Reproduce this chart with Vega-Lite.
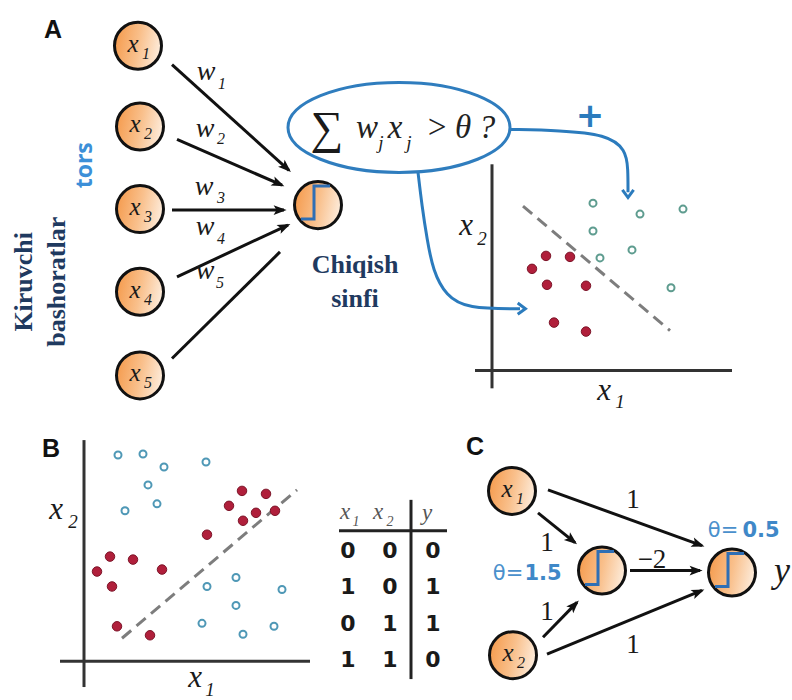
{
  "$schema": "https://vega.github.io/schema/vega-lite/v6.json",
  "width": 792,
  "height": 700,
  "autosize": {"type": "fit", "contains": "padding"},
  "padding": 0,
  "background": "white",
  "config": {"view": {"stroke": null}},
  "datasets": {
    "lines": [
      {"x": 492, "y": 165, "x2": 492, "y2": 390, "k": "axis"},
      {"x": 475, "y": 372, "x2": 732, "y2": 372, "k": "axis"},
      {"x": 84, "y": 442, "x2": 84, "y2": 690, "k": "axis"},
      {"x": 60, "y": 664, "x2": 310, "y2": 664, "k": "axis"},
      {"x": 523, "y": 207, "x2": 670, "y2": 332, "k": "dash"},
      {"x": 122, "y": 641, "x2": 297, "y2": 492, "k": "dash"},
      {"x": 339, "y": 533, "x2": 447, "y2": 533, "k": "table"},
      {"x": 411, "y": 502, "x2": 411, "y2": 682, "k": "table"}
    ],
    "arrows": [
      {"x": 172, "y": 65, "x2": 289, "y2": 171, "a": 132.4},
      {"x": 177, "y": 140, "x2": 282, "y2": 186, "a": 113.7},
      {"x": 172, "y": 211, "x2": 284, "y2": 211, "a": 90},
      {"x": 177, "y": 278, "x2": 288, "y2": 226, "a": 64.9},
      {"x": 172, "y": 360, "x2": 280, "y2": 253, "a": null},
      {"x": 548, "y": 492, "x2": 702, "y2": 548, "a": 110.0},
      {"x": 538, "y": 515, "x2": 575, "y2": 545, "a": 129.0},
      {"x": 543, "y": 640, "x2": 577, "y2": 605, "a": 44.2},
      {"x": 547, "y": 657, "x2": 702, "y2": 593, "a": 67.6},
      {"x": 630, "y": 573, "x2": 700, "y2": 573, "a": 90}
    ],
    "curves": [
      {"id": 1, "o": 1, "x": 510, "y": 130},
      {"id": 1, "o": 2, "x": 560, "y": 131},
      {"id": 1, "o": 3, "x": 606, "y": 135},
      {"id": 1, "o": 4, "x": 626, "y": 150},
      {"id": 1, "o": 5, "x": 628, "y": 170},
      {"id": 1, "o": 6, "x": 628, "y": 193},
      {"id": 2, "o": 1, "x": 418, "y": 173},
      {"id": 2, "o": 2, "x": 422, "y": 207},
      {"id": 2, "o": 3, "x": 427, "y": 240},
      {"id": 2, "o": 4, "x": 433, "y": 272},
      {"id": 2, "o": 5, "x": 446, "y": 297},
      {"id": 2, "o": 6, "x": 467, "y": 310},
      {"id": 2, "o": 7, "x": 520, "y": 310}
    ],
    "bheads": [
      {"x": 628, "y": 197, "a": 180},
      {"x": 524, "y": 310, "a": 90}
    ],
    "ellipse": [{"x": 399, "y": 128}],
    "nodes": [
      {"x": 138, "y": 46, "k": "in"},
      {"x": 140, "y": 127, "k": "in"},
      {"x": 140, "y": 210, "k": "in"},
      {"x": 140, "y": 293, "k": "in"},
      {"x": 140, "y": 377, "k": "in"},
      {"x": 318, "y": 206, "k": "unit"},
      {"x": 512, "y": 493, "k": "in"},
      {"x": 513, "y": 658, "k": "in"},
      {"x": 602, "y": 573, "k": "unit"},
      {"x": 732, "y": 575, "k": "unit"}
    ],
    "dots": [
      {"x": 593, "y": 204, "c": "cA"}, {"x": 640, "y": 215, "c": "cA"}, {"x": 683, "y": 210, "c": "cA"},
      {"x": 593, "y": 232, "c": "cA"}, {"x": 600, "y": 259, "c": "cA"}, {"x": 632, "y": 251, "c": "cA"},
      {"x": 671, "y": 289, "c": "cA"},
      {"x": 546, "y": 257, "c": "red"}, {"x": 570, "y": 258, "c": "red"}, {"x": 532, "y": 270, "c": "red"},
      {"x": 547, "y": 286, "c": "red"}, {"x": 586, "y": 287, "c": "red"}, {"x": 554, "y": 324, "c": "red"},
      {"x": 586, "y": 333, "c": "red"},
      {"x": 118, "y": 457, "c": "cB"}, {"x": 143, "y": 456, "c": "cB"}, {"x": 164, "y": 469, "c": "cB"},
      {"x": 206, "y": 464, "c": "cB"}, {"x": 148, "y": 487, "c": "cB"}, {"x": 157, "y": 506, "c": "cB"},
      {"x": 125, "y": 513, "c": "cB"}, {"x": 207, "y": 589, "c": "cB"}, {"x": 236, "y": 580, "c": "cB"},
      {"x": 282, "y": 592, "c": "cB"}, {"x": 236, "y": 608, "c": "cB"}, {"x": 202, "y": 626, "c": "cB"},
      {"x": 243, "y": 637, "c": "cB"}, {"x": 274, "y": 629, "c": "cB"},
      {"x": 242, "y": 493, "c": "red"}, {"x": 266, "y": 496, "c": "red"}, {"x": 229, "y": 508, "c": "red"},
      {"x": 256, "y": 515, "c": "red"}, {"x": 243, "y": 523, "c": "red"}, {"x": 275, "y": 513, "c": "red"},
      {"x": 207, "y": 537, "c": "red"}, {"x": 110, "y": 559, "c": "red"}, {"x": 133, "y": 562, "c": "red"},
      {"x": 97, "y": 574, "c": "red"}, {"x": 162, "y": 572, "c": "red"}, {"x": 112, "y": 589, "c": "red"},
      {"x": 117, "y": 629, "c": "red"}, {"x": 150, "y": 638, "c": "red"}
    ],
    "texts": [
      {"x": 53, "y": 30, "t": "A", "r": "panel"},
      {"x": 51, "y": 451, "t": "B", "r": "panel"},
      {"x": 475, "y": 449, "t": "C", "r": "panel"},
      {"x": 133, "y": 44, "t": "x", "r": "var"},
      {"x": 135, "y": 125, "t": "x", "r": "var"},
      {"x": 135, "y": 208, "t": "x", "r": "var"},
      {"x": 135, "y": 291, "t": "x", "r": "var"},
      {"x": 135, "y": 375, "t": "x", "r": "var"},
      {"x": 507, "y": 491, "t": "x", "r": "var"},
      {"x": 508, "y": 656, "t": "x", "r": "var"},
      {"x": 146, "y": 54, "t": "1", "r": "sub"},
      {"x": 148, "y": 135, "t": "2", "r": "sub"},
      {"x": 148, "y": 218, "t": "3", "r": "sub"},
      {"x": 148, "y": 301, "t": "4", "r": "sub"},
      {"x": 148, "y": 385, "t": "5", "r": "sub"},
      {"x": 520, "y": 501, "t": "1", "r": "sub"},
      {"x": 521, "y": 666, "t": "2", "r": "sub"},
      {"x": 206, "y": 72, "t": "w", "r": "w"},
      {"x": 205, "y": 130, "t": "w", "r": "w"},
      {"x": 204, "y": 188, "t": "w", "r": "w"},
      {"x": 205, "y": 228, "t": "w", "r": "w"},
      {"x": 205, "y": 272, "t": "w", "r": "w"},
      {"x": 222, "y": 84, "t": "1", "r": "sub"},
      {"x": 221, "y": 140, "t": "2", "r": "sub"},
      {"x": 221, "y": 199, "t": "3", "r": "sub"},
      {"x": 221, "y": 240, "t": "4", "r": "sub"},
      {"x": 220, "y": 284, "t": "5", "r": "sub"},
      {"x": 466, "y": 227, "t": "x", "r": "axis"},
      {"x": 604, "y": 393, "t": "x", "r": "axis"},
      {"x": 56, "y": 512, "t": "x", "r": "axis"},
      {"x": 195, "y": 681, "t": "x", "r": "axis"},
      {"x": 482, "y": 240, "t": "2", "r": "axsub"},
      {"x": 620, "y": 404, "t": "1", "r": "axsub"},
      {"x": 73, "y": 524, "t": "2", "r": "axsub"},
      {"x": 210, "y": 693, "t": "1", "r": "axsub"},
      {"x": 327, "y": 130, "t": "∑", "r": "sigma"},
      {"x": 367, "y": 129, "t": "w", "r": "form"},
      {"x": 395, "y": 129, "t": "x", "r": "form"},
      {"x": 437, "y": 129, "t": ">", "r": "form"},
      {"x": 463, "y": 129, "t": "θ", "r": "form"},
      {"x": 487, "y": 129, "t": "?", "r": "form"},
      {"x": 381, "y": 144, "t": "j", "r": "fsub"},
      {"x": 409, "y": 144, "t": "j", "r": "fsub"},
      {"x": 345, "y": 514, "t": "x", "r": "hdr"},
      {"x": 378, "y": 514, "t": "x", "r": "hdr"},
      {"x": 427, "y": 515, "t": "y", "r": "hdr"},
      {"x": 356, "y": 524, "t": "1", "r": "hsub"},
      {"x": 390, "y": 524, "t": "2", "r": "hsub"},
      {"x": 348, "y": 553, "t": "0", "r": "num"},
      {"x": 390, "y": 553, "t": "0", "r": "num"},
      {"x": 433, "y": 553, "t": "0", "r": "num"},
      {"x": 348, "y": 590, "t": "1", "r": "num"},
      {"x": 390, "y": 590, "t": "0", "r": "num"},
      {"x": 433, "y": 590, "t": "1", "r": "num"},
      {"x": 348, "y": 627, "t": "0", "r": "num"},
      {"x": 390, "y": 627, "t": "1", "r": "num"},
      {"x": 433, "y": 627, "t": "1", "r": "num"},
      {"x": 348, "y": 663, "t": "1", "r": "num"},
      {"x": 390, "y": 663, "t": "1", "r": "num"},
      {"x": 433, "y": 663, "t": "0", "r": "num"},
      {"x": 633, "y": 502, "t": "1", "r": "cw"},
      {"x": 547, "y": 545, "t": "1", "r": "cw"},
      {"x": 652, "y": 562, "t": "−2", "r": "cw"},
      {"x": 547, "y": 615, "t": "1", "r": "cw"},
      {"x": 633, "y": 648, "t": "1", "r": "cw"},
      {"x": 508, "y": 576, "t": "θ=", "r": "thS"},
      {"x": 723, "y": 533, "t": "θ=", "r": "thS"},
      {"x": 543, "y": 576, "t": "1.5", "r": "thN"},
      {"x": 761, "y": 533, "t": "0.5", "r": "thN"},
      {"x": 355, "y": 266, "t": "Chiqish", "r": "navy"},
      {"x": 355, "y": 300, "t": "sinfi", "r": "navy"},
      {"x": 24, "y": 283, "t": "Kiruvchi", "r": "navyR"},
      {"x": 57, "y": 283, "t": "bashoratlar", "r": "navyR"},
      {"x": 85, "y": 166, "t": "tors", "r": "blueR"},
      {"x": 590, "y": 118, "t": "+", "r": "plus"},
      {"x": 774, "y": 573, "t": "y", "r": "yC"}
    ]
  },
  "encoding": {
    "x": {"field": "x", "type": "quantitative", "scale": {"domain": [0, 792], "nice": false, "zero": false}, "axis": null},
    "y": {"field": "y", "type": "quantitative", "scale": {"domain": [0, 700], "nice": false, "zero": false, "reverse": true}, "axis": null}
  },
  "layer": [
    {
      "data": {"name": "lines"},
      "transform": [{"filter": "datum.k === 'axis'"}],
      "mark": {"type": "rule", "stroke": "#333333", "strokeWidth": 3},
      "encoding": {"x2": {"field": "x2"}, "y2": {"field": "y2"}}
    },
    {
      "data": {"name": "lines"},
      "transform": [{"filter": "datum.k === 'dash'"}],
      "mark": {"type": "rule", "stroke": "#7d7d7d", "strokeWidth": 3, "strokeDash": [12, 7]},
      "encoding": {"x2": {"field": "x2"}, "y2": {"field": "y2"}}
    },
    {
      "data": {"name": "lines"},
      "transform": [{"filter": "datum.k === 'table'"}],
      "mark": {"type": "rule", "stroke": "#222222", "strokeWidth": 3},
      "encoding": {"x2": {"field": "x2"}, "y2": {"field": "y2"}}
    },
    {
      "data": {"name": "arrows"},
      "mark": {"type": "rule", "stroke": "#111111", "strokeWidth": 3},
      "encoding": {"x2": {"field": "x2"}, "y2": {"field": "y2"}}
    },
    {
      "data": {"name": "arrows"},
      "transform": [{"filter": "datum.a != null"}],
      "mark": {"type": "point", "shape": "M0,-0.4 L0.75,1.6 L0,1.15 L-0.75,1.6 Z", "filled": true, "fill": "#111111", "strokeWidth": 0, "size": 169, "opacity": 1},
      "encoding": {
        "x": {"field": "x2", "type": "quantitative", "scale": {"domain": [0, 792], "nice": false, "zero": false}, "axis": null},
        "y": {"field": "y2", "type": "quantitative", "scale": {"domain": [0, 700], "nice": false, "zero": false, "reverse": true}, "axis": null},
        "angle": {"field": "a", "type": "quantitative", "scale": null}
      }
    },
    {
      "data": {"name": "curves"},
      "mark": {"type": "line", "stroke": "#2b7bbd", "strokeWidth": 3, "interpolate": "basis"},
      "encoding": {"detail": {"field": "id"}, "order": {"field": "o"}}
    },
    {
      "data": {"name": "bheads"},
      "mark": {"type": "point", "shape": "M-0.8,0.9 L0,-0.2 L0.8,0.9", "filled": false, "stroke": "#2b7bbd", "strokeWidth": 3, "size": 196, "opacity": 1},
      "encoding": {"angle": {"field": "a", "type": "quantitative", "scale": null}}
    },
    {
      "data": {"name": "ellipse"},
      "mark": {"type": "point", "shape": "M-1,0 C-1,-0.2237 -0.5523,-0.405 0,-0.405 C0.5523,-0.405 1,-0.2237 1,0 C1,0.2237 0.5523,0.405 0,0.405 C-0.5523,0.405 -1,0.2237 -1,0 Z", "filled": false, "stroke": "#2f7dbe", "strokeWidth": 3, "size": 49284, "opacity": 1}
    },
    {
      "data": {"name": "nodes"},
      "mark": {
        "type": "point", "shape": "circle", "filled": true, "size": 2209, "opacity": 1,
        "fill": {"gradient": "linear", "x1": 0, "y1": 0.4, "x2": 1, "y2": 0.6, "stops": [{"offset": 0, "color": "#f59c4f"}, {"offset": 0.5, "color": "#f9c08c"}, {"offset": 1, "color": "#fdeedf"}]},
        "stroke": "#111111", "strokeWidth": 3
      }
    },
    {
      "data": {"name": "nodes"},
      "transform": [{"filter": "datum.k === 'unit'"}],
      "mark": {"type": "point", "shape": "M-0.85,0.7 L-0.2,0.7 L-0.2,-0.95 L0.6,-0.95", "filled": false, "stroke": "#2f6fb5", "strokeWidth": 3, "size": 1600, "opacity": 1}
    },
    {
      "data": {"name": "dots"},
      "transform": [{"filter": "datum.c !== 'red'"}],
      "mark": {"type": "point", "shape": "circle", "filled": false, "strokeWidth": 2, "size": 49, "opacity": 1},
      "encoding": {"stroke": {"field": "c", "type": "nominal", "scale": {"domain": ["cA", "cB"], "range": ["#5e9c8f", "#4f98b6"]}, "legend": null}}
    },
    {
      "data": {"name": "dots"},
      "transform": [{"filter": "datum.c === 'red'"}],
      "mark": {"type": "point", "shape": "circle", "filled": true, "fill": "#b01f3b", "stroke": "#7c1428", "strokeWidth": 1, "size": 90, "opacity": 1}
    },
    {
      "data": {"name": "texts"},
      "transform": [{"filter": "datum.r === 'panel'"}],
      "mark": {"type": "text", "font": "Liberation Sans", "fontWeight": "bold", "fontSize": 25, "align": "center", "baseline": "middle", "color": "#111111"},
      "encoding": {"text": {"field": "t"}}
    },
    {
      "data": {"name": "texts"},
      "transform": [{"filter": "datum.r === 'var'"}],
      "mark": {"type": "text", "font": "Liberation Serif", "fontStyle": "italic", "fontSize": 25, "align": "center", "baseline": "middle", "color": "#1a1a1a"},
      "encoding": {"text": {"field": "t"}}
    },
    {
      "data": {"name": "texts"},
      "transform": [{"filter": "datum.r === 'sub'"}],
      "mark": {"type": "text", "font": "Liberation Serif", "fontStyle": "italic", "fontSize": 16, "align": "center", "baseline": "middle", "color": "#1a1a1a"},
      "encoding": {"text": {"field": "t"}}
    },
    {
      "data": {"name": "texts"},
      "transform": [{"filter": "datum.r === 'w'"}],
      "mark": {"type": "text", "font": "Liberation Serif", "fontStyle": "italic", "fontSize": 28, "align": "center", "baseline": "middle", "color": "#1a1a1a"},
      "encoding": {"text": {"field": "t"}}
    },
    {
      "data": {"name": "texts"},
      "transform": [{"filter": "datum.r === 'axis'"}],
      "mark": {"type": "text", "font": "Liberation Serif", "fontStyle": "italic", "fontSize": 31, "align": "center", "baseline": "middle", "color": "#1a1a1a"},
      "encoding": {"text": {"field": "t"}}
    },
    {
      "data": {"name": "texts"},
      "transform": [{"filter": "datum.r === 'axsub'"}],
      "mark": {"type": "text", "font": "Liberation Serif", "fontStyle": "italic", "fontSize": 19, "align": "center", "baseline": "middle", "color": "#1a1a1a"},
      "encoding": {"text": {"field": "t"}}
    },
    {
      "data": {"name": "texts"},
      "transform": [{"filter": "datum.r === 'sigma'"}],
      "mark": {"type": "text", "font": "Liberation Serif", "fontSize": 46, "align": "center", "baseline": "middle", "color": "#1a1a1a"},
      "encoding": {"text": {"field": "t"}}
    },
    {
      "data": {"name": "texts"},
      "transform": [{"filter": "datum.r === 'form'"}],
      "mark": {"type": "text", "font": "Liberation Serif", "fontStyle": "italic", "fontSize": 33, "align": "center", "baseline": "middle", "color": "#222222"},
      "encoding": {"text": {"field": "t"}}
    },
    {
      "data": {"name": "texts"},
      "transform": [{"filter": "datum.r === 'fsub'"}],
      "mark": {"type": "text", "font": "Liberation Serif", "fontStyle": "italic", "fontSize": 19, "align": "center", "baseline": "middle", "color": "#222222"},
      "encoding": {"text": {"field": "t"}}
    },
    {
      "data": {"name": "texts"},
      "transform": [{"filter": "datum.r === 'hdr'"}],
      "mark": {"type": "text", "font": "Liberation Serif", "fontStyle": "italic", "fontSize": 23, "align": "center", "baseline": "middle", "color": "#555555"},
      "encoding": {"text": {"field": "t"}}
    },
    {
      "data": {"name": "texts"},
      "transform": [{"filter": "datum.r === 'hsub'"}],
      "mark": {"type": "text", "font": "Liberation Serif", "fontStyle": "italic", "fontSize": 14, "align": "center", "baseline": "middle", "color": "#555555"},
      "encoding": {"text": {"field": "t"}}
    },
    {
      "data": {"name": "texts"},
      "transform": [{"filter": "datum.r === 'num'"}],
      "mark": {"type": "text", "font": "DejaVu Sans", "fontWeight": "bold", "fontSize": 22, "align": "center", "baseline": "middle", "color": "#1a1a1a"},
      "encoding": {"text": {"field": "t"}}
    },
    {
      "data": {"name": "texts"},
      "transform": [{"filter": "datum.r === 'cw'"}],
      "mark": {"type": "text", "font": "Liberation Serif", "fontSize": 27, "align": "center", "baseline": "middle", "color": "#1a1a1a"},
      "encoding": {"text": {"field": "t"}}
    },
    {
      "data": {"name": "texts"},
      "transform": [{"filter": "datum.r === 'thS'"}],
      "mark": {"type": "text", "font": "DejaVu Sans", "fontSize": 21, "align": "center", "baseline": "middle", "color": "#4a90cc"},
      "encoding": {"text": {"field": "t"}}
    },
    {
      "data": {"name": "texts"},
      "transform": [{"filter": "datum.r === 'thN'"}],
      "mark": {"type": "text", "font": "DejaVu Sans", "fontWeight": "bold", "fontSize": 21, "align": "center", "baseline": "middle", "color": "#3f88c8"},
      "encoding": {"text": {"field": "t"}}
    },
    {
      "data": {"name": "texts"},
      "transform": [{"filter": "datum.r === 'navy'"}],
      "mark": {"type": "text", "font": "Liberation Serif", "fontWeight": "bold", "fontSize": 26, "align": "center", "baseline": "middle", "color": "#1f3a60"},
      "encoding": {"text": {"field": "t"}}
    },
    {
      "data": {"name": "texts"},
      "transform": [{"filter": "datum.r === 'navyR'"}],
      "mark": {"type": "text", "font": "Liberation Serif", "fontWeight": "bold", "fontSize": 26, "align": "center", "baseline": "middle", "color": "#1f3a60", "angle": 270},
      "encoding": {"text": {"field": "t"}}
    },
    {
      "data": {"name": "texts"},
      "transform": [{"filter": "datum.r === 'blueR'"}],
      "mark": {"type": "text", "font": "Open Sans", "fontWeight": "bold", "fontSize": 23, "align": "center", "baseline": "middle", "color": "#3c8fd8", "angle": 270},
      "encoding": {"text": {"field": "t"}}
    },
    {
      "data": {"name": "texts"},
      "transform": [{"filter": "datum.r === 'plus'"}],
      "mark": {"type": "text", "font": "DejaVu Sans", "fontWeight": "bold", "fontSize": 34, "align": "center", "baseline": "middle", "color": "#2b7bbd"},
      "encoding": {"text": {"field": "t"}}
    },
    {
      "data": {"name": "texts"},
      "transform": [{"filter": "datum.r === 'yC'"}],
      "mark": {"type": "text", "font": "Liberation Serif", "fontStyle": "italic", "fontSize": 36, "align": "left", "baseline": "middle", "color": "#1a1a1a"},
      "encoding": {"text": {"field": "t"}}
    }
  ]
}
